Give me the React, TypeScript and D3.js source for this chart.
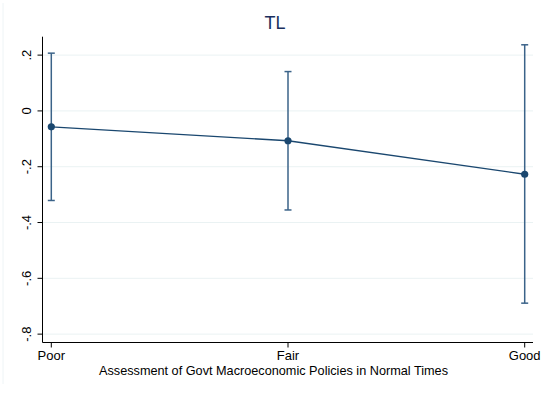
import React from "react";
import * as d3 from "d3";

const categories = ["Poor", "Fair", "Good"];
const estimates = [-0.057, -0.107, -0.227];
const lowerCI = [-0.321, -0.355, -0.689];
const upperCI = [0.207, 0.141, 0.237];
const yTicks = [0.2, 0, -0.2, -0.4, -0.6, -0.8];
const yTickLabels = [".2", "0", "-.2", "-.4", "-.6", "-.8"];
const title = "TL";
const xTitle = "Assessment of Govt Macroeconomic Policies in Normal Times";

const W = 548;
const H = 394;
const axisLeft = 42.5;
const axisRight = 533;
const axisTop = 36.7;
const axisBottom = 342.5;
const navy = "#1a476f";
const font = "Liberation Sans, Arial, sans-serif";

export default function App() {
  const x = d3.scalePoint<string>().domain(categories).range([51.3, 524.7]);
  const y = d3.scaleLinear().domain([-0.83, 0.266]).range([axisBottom, axisTop]);
  const line = d3
    .line<number>()
    .x((_, i) => x(categories[i]) as number)
    .y((d) => y(d));
  const capW = 3.5;
  return (
    <svg
      width={W}
      height={H}
      style={{ position: "absolute", left: 0, top: 0, background: "#ffffff" }}
    >
      <line x1={3} x2={3} y1={3} y2={H - 10} stroke="#eef4f6" strokeWidth={1} />
      {yTicks.map((t, i) => (
        <g key={"y" + i}>
          <line x1={axisLeft} x2={axisRight} y1={y(t)} y2={y(t)} stroke="#eaf2f3" strokeWidth={1} />
          <line x1={axisLeft - 5} x2={axisLeft} y1={y(t)} y2={y(t)} stroke="#000" strokeWidth={1} />
          <text
            transform={`translate(30.5,${y(t)}) rotate(-90)`}
            textAnchor="middle"
            fontFamily={font}
            fontSize={13}
            fill="#000"
          >
            {yTickLabels[i]}
          </text>
        </g>
      ))}
      <line x1={axisLeft} x2={axisLeft} y1={axisTop} y2={axisBottom} stroke="#000" strokeWidth={1} />
      <line x1={axisLeft} x2={axisRight} y1={axisBottom} y2={axisBottom} stroke="#000" strokeWidth={1} />
      {categories.map((c) => (
        <g key={c}>
          <line x1={x(c)} x2={x(c)} y1={axisBottom} y2={axisBottom + 5} stroke="#000" strokeWidth={1} />
          <text x={x(c)} y={359.5} textAnchor="middle" fontFamily={font} fontSize={13} fill="#000">
            {c}
          </text>
        </g>
      ))}
      <text x={273.5} y={375} textAnchor="middle" fontFamily={font} fontSize={12.7} fill="#000">
        {xTitle}
      </text>
      <text x={275} y={29} textAnchor="middle" fontFamily={font} fontSize={18} fill="#1a2f5e">
        {title}
      </text>
      {categories.map((c, i) => {
        const cx = x(c) as number;
        return (
          <g key={"e" + c} stroke="#3b6389" strokeWidth={1.5}>
            <line x1={cx} x2={cx} y1={y(upperCI[i])} y2={y(lowerCI[i])} />
            <line x1={cx - capW} x2={cx + capW} y1={y(upperCI[i])} y2={y(upperCI[i])} />
            <line x1={cx - capW} x2={cx + capW} y1={y(lowerCI[i])} y2={y(lowerCI[i])} />
          </g>
        );
      })}
      <path d={line(estimates) || ""} fill="none" stroke={navy} strokeWidth={1.3} />
      {categories.map((c, i) => (
        <circle key={"p" + c} cx={x(c)} cy={y(estimates[i])} r={3.6} fill={navy} />
      ))}
    </svg>
  );
}
